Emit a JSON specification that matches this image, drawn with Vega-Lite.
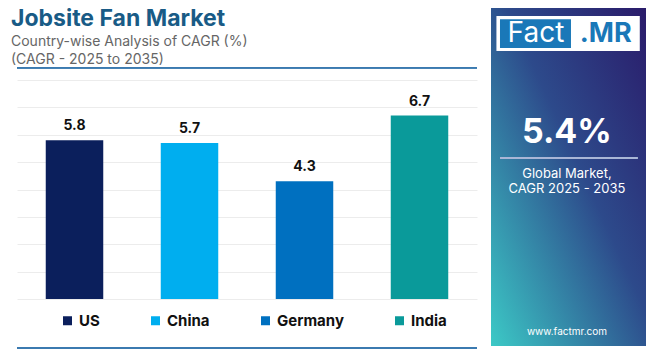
{
  "$schema": "https://vega.github.io/schema/vega-lite/v6.json",
  "padding": {"left": 11, "top": 7, "right": 2, "bottom": 0},
  "background": "white",
  "spacing": 14,
  "bounds": "flush",
  "config": {"view": {"stroke": null}, "font": "Inter"},
  "hconcat": [
    {
      "width": 460,
      "height": 219,
      "title": {
        "text": "Jobsite Fan Market",
        "subtitle": ["Country-wise Analysis of CAGR (%)", "(CAGR - 2025 to 2035)"],
        "anchor": "start",
        "dx": -5,
        "fontSize": 23,
        "fontWeight": "bold",
        "color": "#195b86",
        "subtitleFontSize": 14,
        "subtitleColor": "#666666",
        "subtitleFontWeight": "normal",
        "subtitleLineHeight": 18,
        "subtitlePadding": 4,
        "offset": 0
      },
      "data": {
        "values": [
          {"country": "US", "cagr": 5.8},
          {"country": "China", "cagr": 5.7},
          {"country": "Germany", "cagr": 4.3},
          {"country": "India", "cagr": 6.7}
        ]
      },
      "encoding": {
        "x": {"field": "country", "type": "nominal", "sort": null, "scale": {"paddingInner": 0.5, "paddingOuter": 0.25}, "axis": null},
        "y": {"field": "cagr", "type": "quantitative", "scale": {"domain": [0, 8], "nice": false},
              "axis": {"values": [0, 1, 2, 3, 4, 5, 6, 7, 8], "labels": false, "ticks": false, "domain": false, "title": null, "grid": true, "gridColor": "#ececec", "gridWidth": 1}}
      },
      "layer": [
        {
          "mark": {"type": "bar"},
          "encoding": {
            "color": {
              "field": "country", "type": "nominal", "sort": null,
              "scale": {"domain": ["US", "China", "Germany", "India"], "range": ["#0b1f5c", "#00aeef", "#0070c0", "#0a9a9a"]},
              "legend": {
                "orient": "none", "legendX": 43, "legendY": 233, "direction": "horizontal",
                "title": null, "symbolType": "square", "symbolSize": 81, "symbolStrokeWidth": 0,
                "labelFontSize": 15, "labelFontWeight": "bold", "labelColor": "#111111",
                "columnPadding": 48, "labelOffset": 4
              }
            }
          }
        },
        {
          "mark": {"type": "text", "dy": -10, "baseline": "alphabetic", "fontWeight": "bold", "fontSize": 14, "color": "#111111"},
          "encoding": {"text": {"field": "cagr", "type": "quantitative", "format": ".1f"}}
        },
        {
          "mark": {"type": "rule", "color": "#3b7ab0", "strokeWidth": 1.5},
          "encoding": {"y": {"datum": 8.45}, "x": null}
        },
        {
          "mark": {"type": "rule", "color": "#3b7ab0", "strokeWidth": 2},
          "encoding": {"y": {"datum": -1.79}, "x": null}
        }
      ]
    },
    {
      "width": 155,
      "height": 266,
      "data": {"values": [{}]},
      "encoding": {
        "x": {"datum": 0, "type": "quantitative", "scale": {"domain": [0, 1], "nice": false, "zero": false}, "axis": null},
        "y": {"datum": 0, "type": "quantitative", "scale": {"domain": [0, 1], "nice": false, "zero": false, "range": [-72, 266]}, "axis": null}
      },
      "layer": [
        {
          "mark": {"type": "rect", "fill": {"gradient": "linear", "x1": 1, "y1": 0, "x2": 0, "y2": 1,
            "stops": [{"offset": 0, "color": "#2a1b6a"}, {"offset": 0.45, "color": "#2d4a8b"}, {"offset": 1, "color": "#3cc9c6"}]}},
          "encoding": {"x": {"datum": 0}, "x2": {"datum": 1}, "y": {"datum": 0}, "y2": {"datum": 1}}
        },
        {
          "mark": {"type": "rect", "fill": "white"},
          "encoding": {"x": {"datum": 0.035}, "x2": {"datum": 0.96}, "y": {"datum": 0.024}, "y2": {"datum": 0.127}}
        },
        {
          "mark": {"type": "rect", "fill": "#1a78b8"},
          "encoding": {"x": {"datum": 0.058}, "x2": {"datum": 0.516}, "y": {"datum": 0.033}, "y2": {"datum": 0.118}}
        },
        {
          "mark": {"type": "text", "text": "Fact", "fontSize": 28, "fontWeight": "normal", "color": "white", "align": "center", "baseline": "middle"},
          "encoding": {"x": {"datum": 0.29}, "y": {"datum": 0.077}}
        },
        {
          "mark": {"type": "text", "text": ".MR", "fontSize": 27, "fontWeight": "bold", "color": "#1a78b8", "align": "center", "baseline": "middle"},
          "encoding": {"x": {"datum": 0.74}, "y": {"datum": 0.077}}
        },
        {
          "mark": {"type": "text", "text": "5.4%", "fontSize": 34, "fontWeight": "bold", "color": "white", "align": "center", "baseline": "middle"},
          "encoding": {"x": {"datum": 0.49}, "y": {"datum": 0.37}}
        },
        {
          "mark": {"type": "rule", "color": "#a9b6d6", "strokeWidth": 2},
          "encoding": {"x": {"datum": 0.058}, "x2": {"datum": 0.948}, "y": {"datum": 0.444}}
        },
        {
          "mark": {"type": "text", "text": "Global Market,", "fontSize": 13, "color": "white", "align": "center", "baseline": "middle"},
          "encoding": {"x": {"datum": 0.49}, "y": {"datum": 0.49}}
        },
        {
          "mark": {"type": "text", "text": "CAGR 2025 - 2035", "fontSize": 13, "color": "white", "align": "center", "baseline": "middle"},
          "encoding": {"x": {"datum": 0.49}, "y": {"datum": 0.535}}
        },
        {
          "mark": {"type": "text", "text": "www.factmr.com", "fontSize": 10, "color": "white", "align": "center", "baseline": "middle"},
          "encoding": {"x": {"datum": 0.49}, "y": {"datum": 0.959}}
        }
      ]
    }
  ]
}
